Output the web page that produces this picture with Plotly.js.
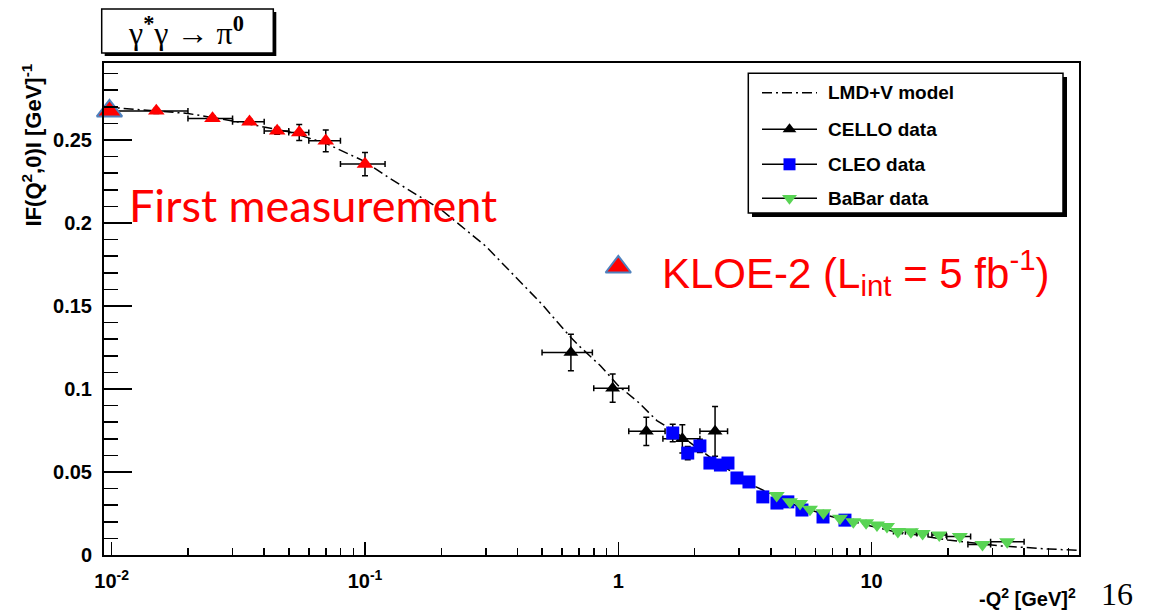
<!DOCTYPE html>
<html>
<head>
<meta charset="utf-8">
<script src="https://cdn.plot.ly/plotly-3.0.1.min.js"></script>
<style>
  html, body { margin: 0; padding: 0; background: #fff; }
  #chart { width: 1149px; height: 613px; }
</style>
</head>
<body>
<div id="chart"></div>
<script>
// ---- LMD+V model curve: |F(Q^2,0)| vs -Q^2 ----
const modelQ2 = [0.0093, 0.02, 0.03, 0.05, 0.07, 0.1, 0.125, 0.2, 0.3, 0.5, 0.65, 0.7, 0.85, 1.0, 1.2, 1.42, 1.65, 2.5, 3.5, 5, 7, 9, 12, 20, 32, 50, 66];
const modelF  = [0.270, 0.266, 0.2615, 0.255, 0.248, 0.237, 0.227, 0.208, 0.186, 0.151, 0.131, 0.126, 0.114, 0.102, 0.092, 0.081, 0.075, 0.055, 0.041, 0.030, 0.023, 0.019, 0.0145, 0.009, 0.0055, 0.0036, 0.0028];

// ---- KLOE-2 projected measurement (5 fb^-1) ----
const kloeQ2    = [0.015, 0.025, 0.035, 0.045, 0.055, 0.07, 0.1];
const kloeF     = [0.2675, 0.263, 0.261, 0.2555, 0.2545, 0.2495, 0.2355];
const kloeErrF  = [0.0015, 0.0015, 0.0015, 0.002, 0.0048, 0.0065, 0.007];
const kloeErrLo = [0.005, 0.005, 0.005, 0.005, 0.005, 0.01, 0.02];
const kloeErrHi = [0.005, 0.005, 0.005, 0.005, 0.005, 0.01, 0.02];
// F(0) reference point, highlighted
const kloeF0Q2 = [0.0098];
const kloeF0F  = [0.2675];

// ---- CELLO data ----
const celloQ2    = [0.65, 0.95, 1.29, 1.79, 2.41];
const celloF     = [0.122, 0.1005, 0.0745, 0.0700, 0.0745];
const celloErrF  = [0.011, 0.0085, 0.0085, 0.0085, 0.015];
const celloErrLo = [0.15, 0.15, 0.19, 0.29, 0.31];
const celloErrHi = [0.14, 0.15, 0.24, 0.31, 0.29];

// ---- CLEO data ----
const cleoQ2   = [1.64, 1.88, 2.10, 2.30, 2.53, 2.71, 2.94, 3.28, 3.72, 4.23, 4.67, 5.31, 6.43, 7.85];
const cleoF    = [0.0735, 0.0614, 0.0657, 0.0554, 0.0542, 0.0554, 0.0464, 0.0440, 0.0350, 0.0313, 0.0320, 0.0271, 0.0229, 0.0210];
const cleoErrF = [0.0052, 0.004, 0.004, 0.003, 0.003, 0.003, 0.003, 0.003, 0.002, 0.002, 0.002, 0.002, 0.002, 0.002];

// ---- BaBar data ----
const babarQ2    = [4.22, 4.76, 5.22, 5.71, 6.45, 7.50, 8.47, 9.51, 10.5, 11.5, 12.7, 14.3, 15.9, 18.5, 22.3, 27.4, 34.3];
const babarF     = [0.0358, 0.0321, 0.0311, 0.0275, 0.0255, 0.0221, 0.0201, 0.0195, 0.0181, 0.0171, 0.0142, 0.0140, 0.0130, 0.0120, 0.0112, 0.0064, 0.0080];
const babarErrLo = [0, 0, 0, 0, 0, 0, 0, 0, 0, 0, 0.5, 0.7, 0.8, 1.2, 2.5, 3.4, 4.8];
const babarErrHi = [0, 0, 0, 0, 0, 0, 0, 0, 0, 0, 0.5, 0.7, 0.8, 1.2, 2.3, 2.1, 5.7];

// axis tick labels
const xTickVals = [0.01, 0.1, 1, 10];
const xTickText = ['10<sup>-2</sup>', '10<sup>-1</sup>', '1', '10'];
const yTickVals = [0, 0.05, 0.1, 0.15, 0.2, 0.25];
const yTickText = ['0', '0.05', '0.1', '0.15', '0.2', '0.25'];

// legend entries
const legendNames = ['LMD+V model', 'CELLO data', 'CLEO data', 'BaBar data'];

// ---- styling ----
const SANS = 'Liberation Sans, Arial, Helvetica, sans-serif';
const SERIF = 'Liberation Serif, Times New Roman, serif';
const RED = '#ff0000', BLUE = '#0000ff', GREEN = '#59d454';
const DASHDOT = '10px,4px,2px,4px';

// plot frame in page pixels
const FL = 104, FR = 1079, FT = 63, FB = 555;
const PX = p => (p - FL) / (FR - FL);
const PY = p => (FB - p) / (FB - FT);

// minor ticks on the log axis
const xMinor = [];
[0.01, 0.1, 1, 10].forEach(d => { for (let k = 2; k <= 9; k++) xMinor.push(d * k); });

const errStyle = { color: '#000', thickness: 1.5, width: 3 };

const traces = [
  { x: modelQ2, y: modelF, mode: 'lines', type: 'scatter',
    line: { color: '#000', width: 1.5, dash: DASHDOT }, hoverinfo: 'skip' },
  { x: celloQ2, y: celloF, mode: 'markers', type: 'scatter',
    marker: { symbol: 'triangle-up', size: 13, color: '#000' },
    error_y: Object.assign({ type: 'data', array: celloErrF }, errStyle),
    error_x: Object.assign({ type: 'data', symmetric: false, array: celloErrHi, arrayminus: celloErrLo }, errStyle) },
  { x: cleoQ2, y: cleoF, mode: 'markers', type: 'scatter',
    marker: { symbol: 'square', size: 13, color: BLUE },
    error_y: Object.assign({ type: 'data', array: cleoErrF }, errStyle) },
  { x: babarQ2, y: babarF, mode: 'markers', type: 'scatter',
    marker: { symbol: 'triangle-down', size: 14, color: GREEN },
    error_x: Object.assign({ type: 'data', symmetric: false, array: babarErrHi, arrayminus: babarErrLo }, errStyle) },
  { x: kloeQ2, y: kloeF, mode: 'markers', type: 'scatter',
    marker: { symbol: 'triangle-up', size: 14.5, color: RED },
    error_y: Object.assign({ type: 'data', array: kloeErrF }, errStyle),
    error_x: Object.assign({ type: 'data', symmetric: false, array: kloeErrHi, arrayminus: kloeErrLo }, errStyle) },
  { x: kloeF0Q2, y: kloeF0F, mode: 'markers', type: 'scatter', cliponaxis: false,
    marker: { symbol: 'triangle-up', size: 22, color: RED, line: { color: '#4f81bd', width: 2 } } }
];

// legend drawn on a pixel-space overlay
const legRowY = [92.7, 129.3, 164.3, 198.3];
const legX0 = 762, legX1 = 817, legXm = 789.5;
traces.push({ x: [legX0, legX1], y: [legRowY[0], legRowY[0]], xaxis: 'x2', yaxis: 'y2', mode: 'lines',
  line: { color: '#000', width: 1.5, dash: DASHDOT }, hoverinfo: 'skip' });
const legSyms = [['triangle-up', '#000', 12], ['square', BLUE, 12], ['triangle-down', GREEN, 13]];
legSyms.forEach((s, i) => {
  const yy = legRowY[i + 1];
  traces.push({ x: [legX0, legX1], y: [yy, yy], xaxis: 'x2', yaxis: 'y2', mode: 'lines',
    line: { color: '#000', width: 1.5 }, hoverinfo: 'skip' });
  traces.push({ x: [legXm], y: [yy], xaxis: 'x2', yaxis: 'y2', mode: 'markers',
    marker: { symbol: s[0], size: s[2], color: s[1] }, hoverinfo: 'skip' });
});
// KLOE-2 key marker
traces.push({ x: [618.3], y: [267], xaxis: 'x2', yaxis: 'y2', mode: 'markers',
  marker: { symbol: 'triangle-up', size: 22, color: RED, line: { color: '#4f81bd', width: 2 } }, hoverinfo: 'skip' });

const annotations = [
  // title
  { text: 'γ<sup><b>*</b></sup>γ → π<sup><b>0</b></sup>', xref: 'paper', yref: 'paper',
    x: PX(186), y: PY(31), xanchor: 'center', yanchor: 'middle', showarrow: false,
    font: { family: SERIF, size: 32, color: '#000' } },
  // axis titles
  { text: 'IF(Q<sup>2</sup>,0)I [GeV]<sup>-1</sup>', xref: 'paper', yref: 'paper',
    x: PX(31), y: PY(62), xanchor: 'center', yanchor: 'top', textangle: -90, showarrow: false,
    font: { family: SANS, size: 22, color: '#000', weight: 'bold' } },
  { text: '-Q<sup>2</sup> [GeV]<sup>2</sup>', xref: 'paper', yref: 'paper',
    x: PX(1078), y: PY(597), xanchor: 'right', yanchor: 'middle', showarrow: false,
    font: { family: SANS, size: 20, color: '#000', weight: 'bold' } },
  // page number
  { text: '16', xref: 'paper', yref: 'paper', x: PX(1117), y: PY(594), xanchor: 'center', yanchor: 'middle',
    showarrow: false, font: { family: SERIF, size: 32, color: '#000' } },
  // highlights
  { text: 'First measurement', xref: 'paper', yref: 'paper', x: PX(127), y: PY(205),
    xanchor: 'left', yanchor: 'middle', showarrow: false,
    font: { family: 'Lato, Noto Sans, sans-serif', size: 45, color: RED } },
  { text: 'KLOE-2 (L<sub>int</sub> = 5 fb<sup>-1</sup>)', xref: 'paper', yref: 'paper', x: PX(660), y: PY(272),
    xanchor: 'left', yanchor: 'middle', showarrow: false,
    font: { family: SANS, size: 42, color: RED } }
];
legendNames.forEach((n, i) => annotations.push({
  text: n, xref: 'paper', yref: 'paper', x: PX(826), y: PY(legRowY[i]), xanchor: 'left', yanchor: 'middle',
  showarrow: false, font: { family: SANS, size: 19, color: '#000', weight: 'bold' } }));

const shapes = [
  // title box with drop shadow
  { type: 'rect', layer: 'below', xref: 'paper', yref: 'paper', x0: PX(104.7), x1: PX(276.3), y0: PY(12), y1: PY(56),
    fillcolor: '#000', line: { width: 0 } },
  { type: 'rect', layer: 'below', xref: 'paper', yref: 'paper', x0: PX(101.7), x1: PX(273.3), y0: PY(9), y1: PY(53),
    fillcolor: '#fff', line: { color: '#000', width: 1.5 } },
  // legend box with drop shadow
  { type: 'rect', layer: 'below', xref: 'paper', yref: 'paper', x0: PX(752), x1: PX(1067), y0: PY(77), y1: PY(217),
    fillcolor: '#000', line: { width: 0 } },
  { type: 'rect', layer: 'below', xref: 'paper', yref: 'paper', x0: PX(748.3), x1: PX(1063), y0: PY(73.3), y1: PY(213),
    fillcolor: '#fff', line: { color: '#000', width: 1.5 } }
];

const layout = {
  width: 1149, height: 613,
  margin: { l: FL, r: 1149 - FR, t: FT, b: 613 - FB, pad: 0 },
  paper_bgcolor: '#fff', plot_bgcolor: 'rgba(0,0,0,0)',
  showlegend: false,
  xaxis: {
    type: 'log', range: [-2.0304, 1.8188], autorange: false,
    tickmode: 'array', tickvals: xTickVals, ticktext: xTickText,
    ticks: 'inside', ticklen: 13, tickwidth: 1.5, tickcolor: '#000',
    minor: { tickmode: 'array', tickvals: xMinor, ticks: 'inside', ticklen: 7, tickwidth: 1.5, tickcolor: '#000', showgrid: false },
    showline: true, linecolor: '#000', linewidth: 2, mirror: true,
    showgrid: false, zeroline: false, ticklabelstandoff: 7,
    tickfont: { family: SANS, size: 20, color: '#000', weight: 'bold' }
  },
  yaxis: {
    range: [0, 0.2964], autorange: false,
    tickmode: 'array', tickvals: yTickVals, ticktext: yTickText,
    ticks: 'inside', ticklen: 28, tickwidth: 1.5, tickcolor: '#000',
    minor: { tickmode: 'linear', tick0: 0, dtick: 0.01, ticks: 'inside', ticklen: 14, tickwidth: 1.5, tickcolor: '#000', showgrid: false },
    showline: true, linecolor: '#000', linewidth: 2, mirror: true,
    showgrid: false, zeroline: false, ticklabelstandoff: 6,
    tickfont: { family: SANS, size: 20, color: '#000', weight: 'bold' }
  },
  xaxis2: { overlaying: 'x', range: [FL, FR], autorange: false, visible: false, fixedrange: true },
  yaxis2: { overlaying: 'y', range: [FB, FT], autorange: false, visible: false, fixedrange: true },
  shapes: shapes,
  annotations: annotations
};

Plotly.newPlot('chart', traces, layout, { staticPlot: true, displayModeBar: false });
</script>
</body>
</html>
